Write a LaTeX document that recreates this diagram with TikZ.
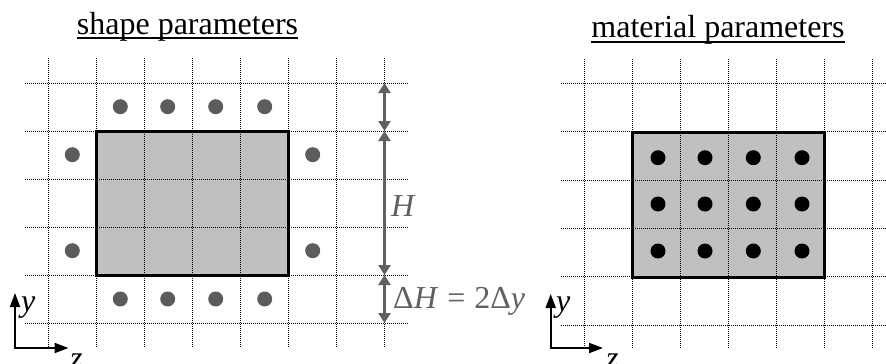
\documentclass[tikz,border=0pt]{standalone}
\usepackage{fontspec}
\setmainfont{Liberation Serif}
\usetikzlibrary{arrows.meta}
\definecolor{dotgray}{HTML}{5C5C5C}
\definecolor{arrgray}{HTML}{606060}
\definecolor{fillgray}{HTML}{C0C0C0}
\newcommand\myul[1]{\setbox0\hbox{#1}\rlap{\raisebox{-5pt}{\rule{\wd0}{2pt}}}\box0}
\tikzset{
  gridline/.style={line width=0.8pt, dash pattern=on 1pt off 1pt, black},
  shapebox/.style={fill=fillgray, draw=black, line width=3pt},
  dimarrow/.style={draw=arrgray, line width=3pt, {Triangle[length=10pt,width=12pt]}-{Triangle[length=10pt,width=12pt]}, shorten <=0pt, shorten >=0pt},
  axisarrow/.style={draw=black, line width=2pt, line join=miter, {Triangle[length=14pt,width=10pt]}-{Triangle[length=14pt,width=10pt]}},
  titletext/.style={font=\fontsize{32}{38}\selectfont, inner sep=0pt, anchor=base},
  mathlabel/.style={font=\fontsize{32}{38}\selectfont, inner sep=0pt},
}
\begin{document}
\begin{tikzpicture}[x=1pt,y=-1pt]
\useasboundingbox (0,0) rectangle (886,364);
% ---------- left panel ----------
\fill[fillgray] (96.5,131) rectangle (288.5,275);
\foreach \i in {0,...,7} \draw[gridline] ({48.5+48*\i},58) -- ({48.5+48*\i},347);
\foreach \j in {0,...,5} \draw[gridline] (25,{83+48*\j}) -- (409,{83+48*\j});
\draw[shapebox, fill=none] (96.5,131) rectangle (288.5,275);
\foreach \x in {120.3,167.7,215.7,264.7} {
  \fill[dotgray] (\x,106.7) circle (7.5);
  \fill[dotgray] (\x,299) circle (7.5);
}
\foreach \y in {154.7,250.7} {
  \fill[dotgray] (72.3,\y) circle (7.5);
  \fill[dotgray] (312.7,\y) circle (7.5);
}
\coordinate (a0) at (384.5,83);
\coordinate (a1) at (384.5,131);
\coordinate (a2) at (384.5,275);
\coordinate (a3) at (384.5,323);
\draw[dimarrow] (a0) -- (a1);
\draw[dimarrow] (a1) -- (a2);
\draw[dimarrow] (a2) -- (a3);
\node[mathlabel, text=arrgray, anchor=base west] (hlab) at (391,216) {\textit{H}};
\node[mathlabel, text=arrgray, anchor=base west] (dhlab) at (393,308) {Δ\textit{H}\hspace{9pt}=\hspace{9pt}2Δ\textit{y}};
\node[titletext] (t1) at (187.5,34.3) {\myul{shape parameters}};
\coordinate (o1) at (15,348);
\coordinate (y1) at (15,293);
\coordinate (z1) at (68.5,348);
\draw[axisarrow] (y1) -- (o1) -- (z1);
\node[mathlabel, anchor=base west] (ylab1) at (21,311) {\textit{y}};
\node[mathlabel, anchor=base west] (zlab1) at (70,368) {\textit{z}};
% ---------- right panel ----------
\fill[fillgray] (632.5,132.7) rectangle (824.5,277);
\foreach \i in {0,...,6} \draw[gridline] ({584.5+48*\i},59) -- ({584.5+48*\i},349);
\foreach \j in {0,...,5} \draw[gridline] (561,{83.3+48.35*\j}) -- (886,{83.3+48.35*\j});
\draw[shapebox, fill=none] (632.5,132.7) rectangle (824.5,277);
\foreach \x in {658,705,753.3,802} {
  \foreach \y in {157.7,204,251} {
    \fill[black] (\x,\y) circle (7.5);
  }
}
\node[titletext] (t2) at (718,37.7) {\myul{material parameters}};
\coordinate (o2) at (550.7,348);
\coordinate (y2) at (550.7,294);
\coordinate (z2) at (603,348);
\draw[axisarrow] (y2) -- (o2) -- (z2);
\node[mathlabel, anchor=base west] (ylab2) at (556,311) {\textit{y}};
\node[mathlabel, anchor=base west] (zlab2) at (606,368) {\textit{z}};
\end{tikzpicture}
\end{document}
